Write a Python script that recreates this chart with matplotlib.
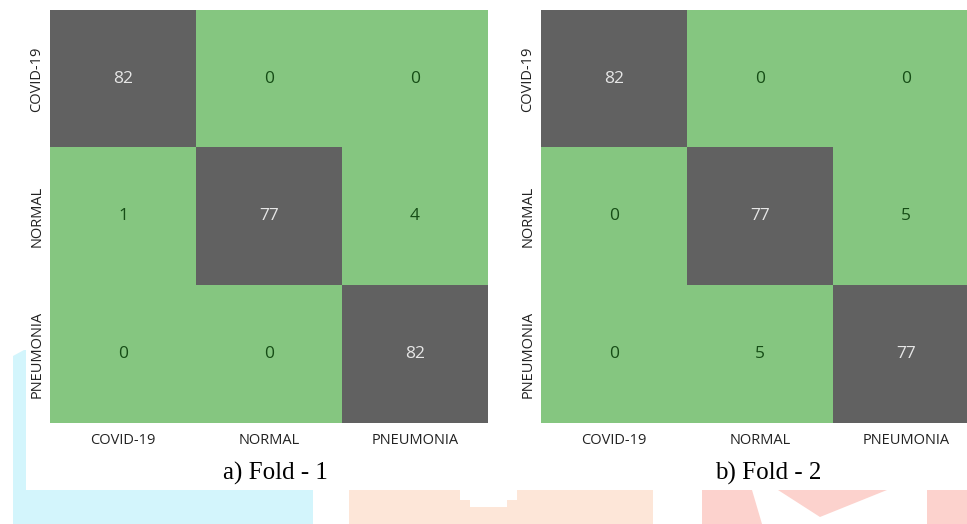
import numpy as np
import matplotlib
matplotlib.use("Agg")
import matplotlib.pyplot as plt
from matplotlib.colors import ListedColormap, BoundaryNorm
from matplotlib.patches import Polygon

# ---- data ----
classes = ["COVID-19", "NORMAL", "PNEUMONIA"]
fold1 = [[82, 0, 0],
         [1, 77, 4],
         [0, 0, 82]]
fold2 = [[82, 0, 0],
         [0, 77, 5],
         [0, 5, 77]]
captions = ["a) Fold - 1", "b) Fold - 2"]

W, H = 967, 524
fig = plt.figure(figsize=(W / 100, H / 100), dpi=100)
fig.patch.set_facecolor("white")


def px(x, y):
    return (x / W, 1 - y / H)


def poly(points, color, z=0):
    p = Polygon([px(x, y) for x, y in points], closed=True,
                transform=fig.transFigure, facecolor=color,
                edgecolor="none", zorder=z)
    fig.add_artist(p)


# decorative page background
poly([(13, 356), (24, 350), (26, 350), (26, 490), (313, 490),
      (313, 524), (13, 524)], "#d3f5fc", z=-10)
poly([(349, 490), (460, 490), (460, 500), (470, 500), (470, 507),
      (507, 507), (507, 500), (517, 500), (517, 490), (653, 490),
      (653, 524), (349, 524)], "#fde6d8", z=-10)
poly([(702, 490), (752, 490), (762, 524), (702, 524)], "#fcd2cd", z=-10)
poly([(778, 490), (887, 490), (820, 517)], "#fcd2cd", z=-10)
poly([(927, 490), (967, 490), (967, 524), (927, 524)], "#fcd2cd", z=-10)

green = "#85C680"
grey = "#616161"
cmap = ListedColormap([green, grey])
norm = BoundaryNorm([0, 40, 100], cmap.N)

lefts = [50, 541]
cap_x = [275, 768]
for k, (mat, cap) in enumerate(zip([fold1, fold2], captions)):
    m = np.array(mat)
    ax = fig.add_axes([lefts[k] / W, (H - 423) / H, 438 / W, 413 / H])
    ax.imshow(m, cmap=cmap, norm=norm, aspect="auto")
    for i in range(3):
        for j in range(3):
            v = m[i, j]
            ax.text(j, i, str(v), ha="center", va="center",
                    fontsize=12.5, family="Open Sans",
                    color="#e6e6e6" if v >= 40 else "#164d16")
    ax.set_xticks(range(3))
    ax.set_yticks(range(3))
    ax.set_xticklabels(classes, fontsize=10.5, family="Open Sans",
                       color="#222222")
    ax.set_yticklabels(classes, fontsize=10.5, family="Open Sans",
                       color="#222222", rotation=90, va="center")
    ax.tick_params(length=0, pad=7)
    ax.tick_params(axis="y", pad=4)
    for s in ax.spines.values():
        s.set_visible(False)
    fig.text(cap_x[k] / W, 1 - 473 / H, cap, ha="center", va="center",
             fontsize=18, family="Liberation Serif", color="#000000")

fig.savefig("out.png", dpi=100)
